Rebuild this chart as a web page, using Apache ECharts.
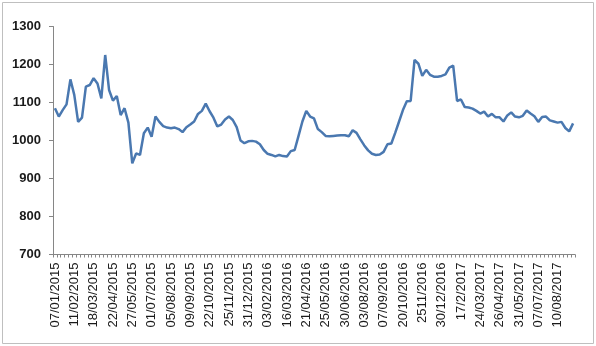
<!DOCTYPE html>
<html>
<head>
<meta charset="utf-8">
<script src="https://cdn.jsdelivr.net/npm/echarts@6/dist/echarts.min.js"></script>
<style>
html,body{margin:0;padding:0;background:#fff;}
#chart{width:596px;height:346px;}
</style>
</head>
<body>
<div id="chart"></div>
<script>
var tickLabels = ['07/01/2015','11/02/2015','18/03/2015','22/04/2015','27/05/2015','01/07/2015','05/08/2015','09/09/2015','22/10/2015','25/11/2015','31/12/2015','03/02/2016','16/03/2016','21/04/2016','25/05/2016','30/06/2016','03/08/2016','07/09/2016','20/10/2016','2511/2016','30/12/2016','17/2/2017','24/03/2017','26/04/2017','31/05/2017','07/07/2017','10/08/2017'];
var labelEvery = 5;

var values = [
 1085,1063,1080,1095,1161,1120,1049,1060,1142,1146,
 1164,1150,1111,1225,1133,1105,1117,1067,1085,1047,
 940,966,962,1019,1034,1010,1063,1049,1038,1034,
 1032,1034,1030,1022,1035,1042,1050,1070,1078,1097,
 1077,1060,1037,1042,1055,1063,1054,1035,1000,993,
 998,999,997,990,975,965,962,958,962,959,
 958,972,975,1012,1050,1078,1063,1058,1030,1022,
 1012,1011,1012,1013,1014,1014,1011,1027,1020,1003,
 987,974,965,962,963,970,990,992,1020,1050,
 1080,1103,1104,1212,1202,1170,1186,1173,1168,1168,
 1170,1174,1192,1197,1104,1108,1088,1087,1084,1078,
 1071,1076,1063,1070,1061,1061,1050,1066,1074,1063,
 1061,1065,1079,1071,1064,1049,1062,1063,1053,1050,
 1047,1049,1033,1024,1045
];

var categories = values.map(function(v, i){ return String(i); });

var chart = echarts.init(document.getElementById('chart'), null, {renderer:'canvas'});
chart.setOption({
  animation: false,
  backgroundColor: '#ffffff',
  graphic: [{
    type: 'rect',
    shape: {x: 2.5, y: 2.5, width: 591, height: 341},
    style: {fill: 'none', stroke: '#bfbfbf', lineWidth: 1},
    silent: true
  }],
  grid: {left: 53, right: 21, top: 26.5, bottom: 91.5, containLabel: false},
  xAxis: {
    type: 'category',
    data: categories,
    boundaryGap: true,
    axisLine: {show: true, lineStyle: {color: '#868686', width: 1}},
    axisTick: {show: true, interval: 0, length: 3, lineStyle: {color: '#868686'}},
    axisLabel: {
      interval: labelEvery - 1,
      rotate: 90,
      margin: 8,
      fontFamily: 'Liberation Sans, Arial, sans-serif',
      fontSize: 13,
      color: '#1a1a1a',
      formatter: function(v, idx){ return tickLabels[Math.round(idx / labelEvery)] || ''; }
    },
    splitLine: {show: false}
  },
  yAxis: {
    type: 'value',
    min: 700,
    max: 1300,
    interval: 100,
    axisLine: {show: true, lineStyle: {color: '#868686', width: 1}},
    axisTick: {show: true, length: 4, lineStyle: {color: '#868686'}},
    axisLabel: {
      margin: 12,
      fontFamily: 'Liberation Sans, Arial, sans-serif',
      fontSize: 13,
      fontWeight: 'bold',
      color: '#1a1a1a',
      formatter: function(v){ return String(v); }
    },
    splitLine: {show: false}
  },
  series: [{
    type: 'line',
    data: values,
    symbol: 'none',
    smooth: false,
    lineStyle: {color: '#4a78b0', width: 2.5},
    itemStyle: {color: '#4a78b0'}
  }]
});
</script>
</body>
</html>
